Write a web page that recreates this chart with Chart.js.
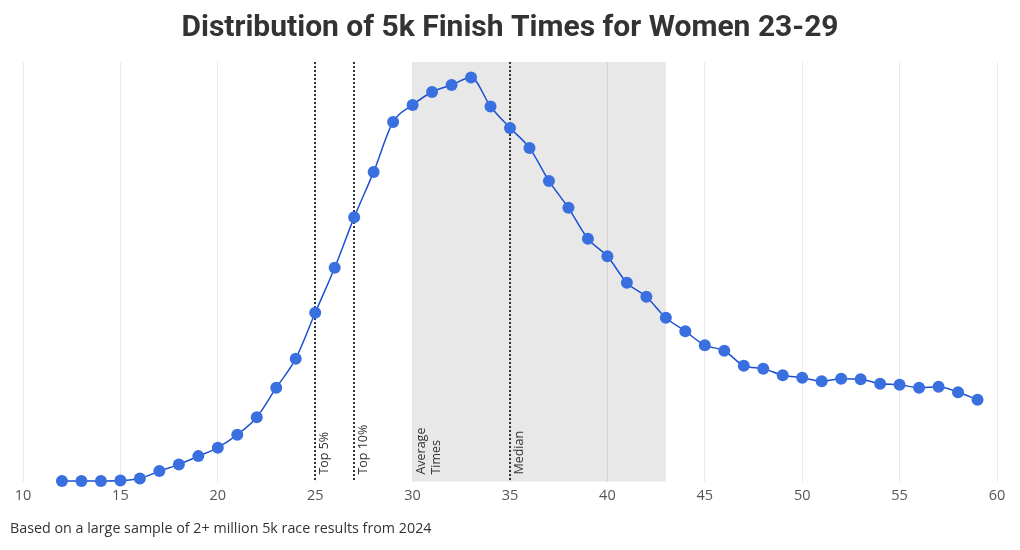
<!DOCTYPE html>
<html>
<head>
<meta charset="utf-8">
<script src="https://cdn.jsdelivr.net/npm/chart.js@4.4.1/dist/chart.umd.min.js"></script>
<style>
  html, body { margin: 0; padding: 0; background: #fff; }
  canvas { display: block; }
</style>
</head>
<body>
<canvas id="chart" width="1020" height="550"></canvas>
<script>
// finish time in minutes (x) and relative number of runners (y)
var minutes = [12, 13, 14, 15, 16, 17, 18, 19, 20, 21, 22, 23, 24, 25, 26, 27, 28, 29, 30, 31,
               32, 33, 34, 35, 36, 37, 38, 39, 40, 41, 42, 43, 44, 45, 46, 47, 48, 49, 50, 51,
               52, 53, 54, 55, 56, 57, 58, 59];
var runners = [0.5, 0.5, 0.5, 1, 3, 10.5, 17, 25.5, 34, 47, 64.5, 94, 123, 169, 214, 264.5, 310, 360, 377, 390,
               397, 404.5, 375.5, 354, 334, 301, 274, 243, 225.5, 199, 185, 164, 150.5, 136.5, 131, 116, 113, 106.5, 104, 100.5,
               103, 102.5, 98, 97, 94, 95, 89.5, 82];

// marker lines
var markerX = [25, 27, 35];
var markerLabels = [["Top 5%"], ["Top 10%"], ["Median"]];

// shaded band of average times
var bandFrom = 30;
var bandTo = 43;
var bandLabel = ["Average", "Times"];

var titleText = "Distribution of 5k Finish Times for Women 23-29";
var footText = "Based on a large sample of 2+ million 5k race results from 2024";

var pts = [];
for (var i = 0; i < minutes.length; i++) {
    pts.push({x: minutes[i], y: runners[i]});
}

var decor = {
    id: "decor",
    beforeDraw: function(chart) {
        var ctx = chart.ctx, a = chart.chartArea, xs = chart.scales.x;
        var x0 = xs.getPixelForValue(bandFrom), x1 = xs.getPixelForValue(bandTo);
        ctx.save();
        ctx.fillStyle = "#e8e8e8";
        ctx.fillRect(x0, a.top, x1 - x0, a.bottom - a.top);
        ctx.restore();
    },
    beforeDatasetsDraw: function(chart) {
        var ctx = chart.ctx, a = chart.chartArea, xs = chart.scales.x;
        ctx.save();
        ctx.strokeStyle = "#333";
        ctx.lineWidth = 2;
        ctx.setLineDash([2, 2]);
        markerX.forEach(function(v) {
            var px = Math.round(xs.getPixelForValue(v));
            ctx.beginPath();
            ctx.moveTo(px, a.top);
            ctx.lineTo(px, a.bottom);
            ctx.stroke();
        });
        ctx.setLineDash([]);
        ctx.fillStyle = "#333";
        ctx.font = "12.5px 'Open Sans'";
        ctx.textAlign = "left";
        ctx.textBaseline = "middle";
        function vlabel(px, lines) {
            lines.forEach(function(t, k) {
                ctx.save();
                ctx.translate(px + 9 + k * 15, a.bottom - 7);
                ctx.rotate(-Math.PI / 2);
                ctx.fillText(t, 0, 0);
                ctx.restore();
            });
        }
        markerX.forEach(function(v, k) {
            vlabel(xs.getPixelForValue(v), markerLabels[k]);
        });
        vlabel(xs.getPixelForValue(bandFrom), bandLabel);
        ctx.restore();
    },
    afterDraw: function(chart) {
        var ctx = chart.ctx;
        ctx.save();
        ctx.fillStyle = "#333";
        ctx.textBaseline = "middle";
        ctx.textAlign = "center";
        ctx.font = "bold 30px Roboto";
        ctx.fillText(titleText, 510, 28);
        ctx.textAlign = "left";
        ctx.font = "14.3px 'Open Sans'";
        ctx.fillText(footText, 10, 529);
        ctx.restore();
    }
};

new Chart(document.getElementById("chart"), {
    type: "line",
    data: {
        datasets: [{
            data: pts,
            borderColor: "#1d50d0",
            borderWidth: 1.5,
            backgroundColor: "#3a6fe0",
            pointBackgroundColor: "#3a6fe0",
            pointBorderWidth: 0,
            pointRadius: 6,
            cubicInterpolationMode: "monotone",
            clip: false
        }]
    },
    options: {
        responsive: false,
        animation: false,
        devicePixelRatio: 1,
        layout: { padding: { left: 23, right: 23, top: 62, bottom: 39 } },
        plugins: { legend: { display: false }, tooltip: { enabled: false } },
        scales: {
            x: {
                type: "linear",
                min: 10,
                max: 60,
                border: { display: false },
                grid: { color: "rgba(0,0,0,0.08)", drawTicks: false },
                ticks: { stepSize: 5, padding: 6, color: "#555", font: { size: 14.5, family: "'Open Sans'" } }
            },
            y: { display: false, min: 0, max: 420 }
        }
    },
    plugins: [decor]
});
</script>
</body>
</html>
